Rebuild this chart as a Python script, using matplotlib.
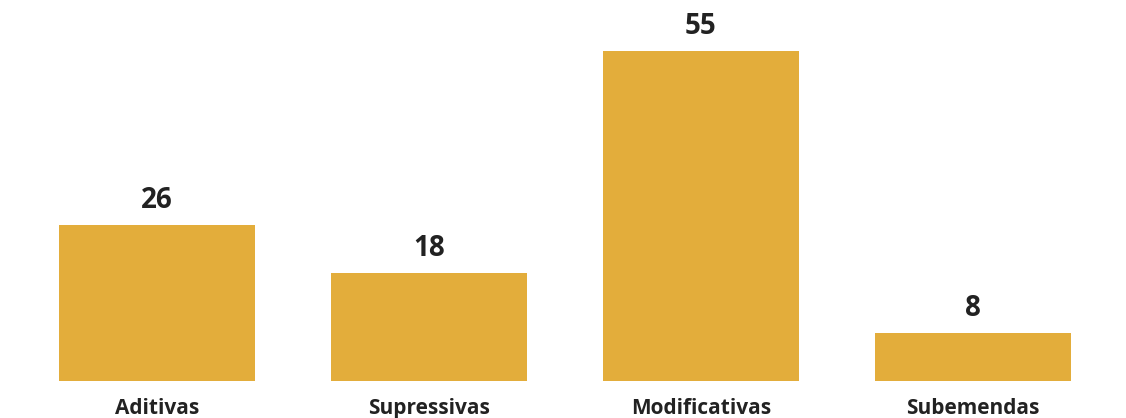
import matplotlib.pyplot as plt

categories = ["Aditivas", "Supressivas", "Modificativas", "Subemendas"]
values = [26, 18, 55, 8]

BAR = "#E3AD3B"
DARK = "#222222"
FONT = ["Open Sans", "DejaVu Sans"]

fig = plt.figure(figsize=(11.26, 4.18), dpi=100, facecolor="white")
ax = fig.add_axes([0, 37 / 418, 1, 344 / 418])
ax.set_xlim(-157 / 272, (1126 - 157) / 272)
ax.set_ylim(0, 344 / 6)

x = range(len(categories))
bars = ax.bar(x, values, width=196 / 272, color=BAR, edgecolor="none")

for b, v in zip(bars, values):
    ax.annotate(str(v), (b.get_x() + b.get_width() / 2, v), xytext=(0, 7),
                textcoords="offset points", ha="center", va="bottom",
                fontsize=20, fontweight="bold", color=DARK, family=FONT)

ax.set_xticks(list(x))
ax.set_xticklabels(categories, fontsize=15, fontweight="bold", color=DARK, family=FONT)
ax.tick_params(axis="x", length=0, pad=12)
ax.set_yticks([])
for s in ax.spines.values():
    s.set_visible(False)

fig.savefig("out.png", dpi=100, facecolor="white")
plt.close(fig)
